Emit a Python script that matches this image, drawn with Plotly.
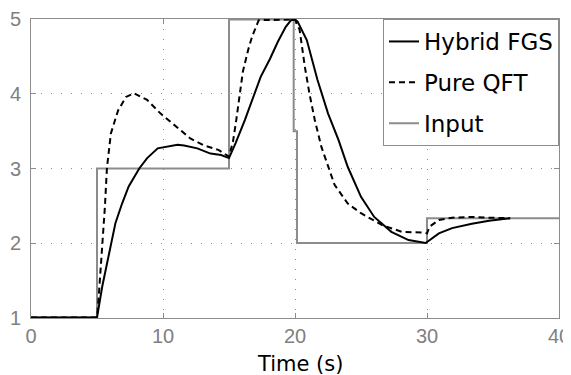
import plotly.graph_objects as go

# ---- data ----
hybrid_t = [0, 5, 5.4, 5.9, 6.4, 6.9, 7.4, 8.2, 8.8, 9.6, 10.6, 11.1, 11.6, 12.6, 13.6, 14.4, 15.0,
            15.5, 16.2, 16.8, 17.4, 18.1, 18.7, 19.3, 19.7, 20.0, 20.2, 20.9, 21.7, 22.5, 23.3,
            24.0, 25.0, 26.0, 27.3, 28.6, 29.9, 30.9, 31.9, 33.4, 34.7, 36.3]
hybrid_v = [1, 1, 1.42, 1.86, 2.27, 2.53, 2.76, 3.0, 3.14, 3.27, 3.31, 3.32, 3.31, 3.27, 3.20, 3.18, 3.14,
            3.34, 3.65, 3.94, 4.23, 4.47, 4.70, 4.90, 4.99, 5.0, 4.97, 4.72, 4.19, 3.74, 3.38,
            3.02, 2.62, 2.35, 2.15, 2.04, 2.0, 2.13, 2.20, 2.26, 2.30, 2.333]

qft_t = [0, 5, 5.15, 5.4, 5.6, 5.75, 6.05, 6.6, 7.2, 7.8, 8.8, 9.8, 10.9, 12.1, 13.1, 14.2, 15.0,
         15.3, 15.55, 15.8, 16.05, 16.45, 16.75, 17.25, 20.0, 20.35, 20.75, 21.1, 21.5, 22.0, 22.5,
         23.0, 24.0, 25.0, 26.6, 28.1, 29.6, 30.0, 30.2, 30.9, 31.9, 33.5, 34.5, 36.3]
qft_v = [1, 1, 1.33, 1.95, 2.49, 3.0, 3.47, 3.78, 3.96, 4.01, 3.92, 3.74, 3.58, 3.40, 3.31, 3.25, 3.16,
         3.36, 3.65, 4.0, 4.30, 4.59, 4.77, 4.99, 5.0, 4.86, 4.36, 4.0, 3.65, 3.29, 3.03,
         2.78, 2.53, 2.40, 2.24, 2.15, 2.14, 2.13, 2.22, 2.31, 2.34, 2.35, 2.34, 2.333]

input_t = [0, 5, 5, 15, 15, 19.9, 19.9, 20.15, 20.15, 30, 30, 40]
input_v = [1, 1, 3, 3, 5, 5, 3.5, 3.5, 2, 2, 2.333, 2.333]

x_ticks = [0, 10, 20, 30, 40]
y_ticks = [1, 2, 3, 4, 5]
series_names = ["Hybrid FGS", "Pure QFT", "Input"]

GRAY = "#8c8c8c"

fig = go.Figure()
fig.add_trace(go.Scatter(x=input_t, y=input_v, mode="lines", name=series_names[2],
                         line=dict(color=GRAY, width=2), legendrank=3, legendgroup="c"))
fig.add_trace(go.Scatter(x=hybrid_t, y=hybrid_v, mode="lines", name=series_names[0],
                         line=dict(color="black", width=2), legendrank=1, legendgroup="a"))
fig.add_trace(go.Scatter(x=qft_t, y=qft_v, mode="lines", name=series_names[1],
                         line=dict(color="black", width=2, dash="6px,4px"), legendrank=2, legendgroup="b"))

axis_common = dict(showline=True, linecolor=GRAY, linewidth=1, mirror="ticks",
                   ticks="inside", ticklen=5, tickcolor=GRAY, tickwidth=1,
                   showgrid=True, gridcolor=GRAY, gridwidth=1, griddash="1px,9px",
                   zeroline=False, layer="below traces", automargin=False,
                   tickfont=dict(family="Liberation Sans", size=20, color="#808080"))

fig.update_xaxes(range=[0, 40], tickvals=x_ticks, ticklabelstandoff=0, **axis_common)
fig.update_yaxes(range=[0.994, 5.006], tickvals=y_ticks, ticklabelstandoff=5, **axis_common)

# the page body adds an 8px margin, so the figure is sized/margined to compensate
fig.update_layout(
    width=563, height=367,
    margin=dict(l=23, r=12, t=11, b=57),
    plot_bgcolor="white", paper_bgcolor="white",
    showlegend=True,
    legend=dict(x=1, y=1, xanchor="right", yanchor="top",
                bgcolor="white", bordercolor=GRAY, borderwidth=1,
                tracegroupgap=8,
                font=dict(family="DejaVu Sans", size=23, color="black")),
    annotations=[dict(text="Time (s)", xref="paper", yref="paper", x=0.51, y=-0.155,
                      xanchor="center", yanchor="middle", showarrow=False,
                      font=dict(family="DejaVu Sans", size=21, color="black"))],
)

fig.write_html("out.html")
